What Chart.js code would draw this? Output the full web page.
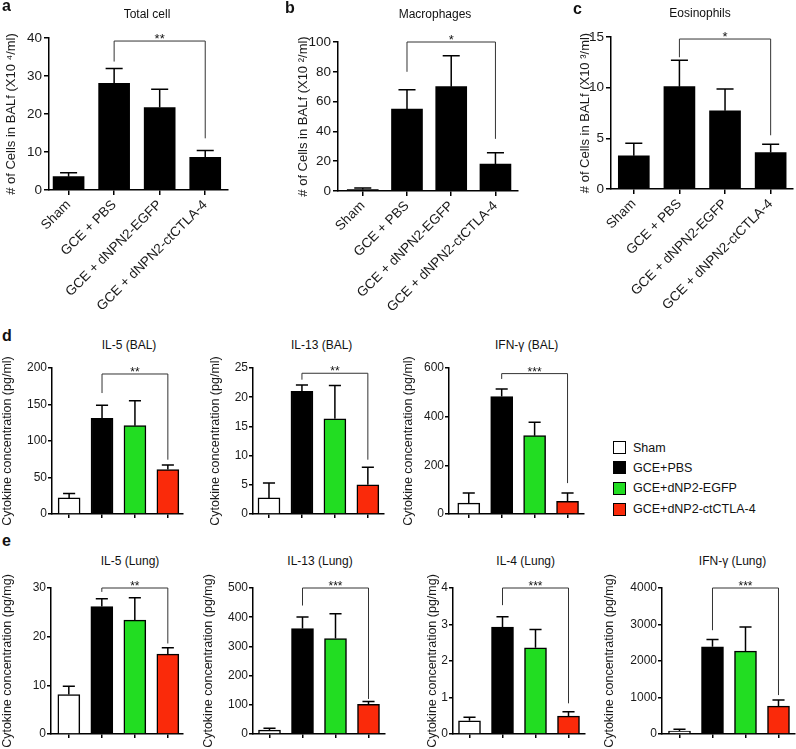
<!DOCTYPE html>
<html><head><meta charset="utf-8">
<script src="https://cdn.jsdelivr.net/npm/chart.js@4/dist/chart.umd.min.js"></script>
<style>
body{margin:0;background:#fff;width:796px;height:749px;overflow:hidden;position:relative;font-family:'Liberation Sans',Arial,sans-serif;}
canvas{position:absolute;}
.t{position:absolute;white-space:nowrap;line-height:1;color:#111;}
.sq{position:absolute;box-sizing:border-box;border:1px solid #000;}
</style></head><body>
<script>
// ---------- DATA ----------
const groups = ['Sham', 'GCE + PBS', 'GCE + dNPN2-EGFP', 'GCE + dNPN2-ctCTLA-4'];
const legendLabels = ['Sham', 'GCE+PBS', 'GCE+dNP2-EGFP', 'GCE+dNP2-ctCTLA-4'];
const groupColors = ['#ffffff', '#000000', '#22dd22', '#fa2a0a'];

const totalCellMean = [3.5, 28.1, 21.7, 8.6];
const totalCellErr  = [4.55, 32, 26.5, 10.4];
const macroMean = [1.0, 55, 70, 18];
const macroErr  = [2.0, 68, 90.8, 25.6];
const eosMean = [3.27, 10.1, 7.72, 3.6];
const eosErr  = [4.52, 12.7, 9.88, 4.42];

const il5BalMean = [22, 131, 121, 61];
const il5BalErr  = [28, 149, 155, 67];
const il13BalMean = [2.75, 21, 16.3, 5];
const il13BalErr  = [5.3, 22.1, 22, 8];
const ifnBalMean = [45, 483, 322, 52];
const ifnBalErr  = [86, 514, 377, 86];

const il5LungMean = [8.1, 26.2, 23.4, 16.4];
const il5LungErr  = [9.8, 27.8, 28, 17.7];
const il13LungMean = [13, 361, 327, 102];
const il13LungErr  = [20, 401, 412, 111];
const il4LungMean = [0.36, 2.93, 2.36, 0.49];
const il4LungErr  = [0.46, 3.21, 2.86, 0.61];
const ifnLungMean = [82, 2387, 2269, 765];
const ifnLungErr  = [128, 2588, 2934, 929];

const ticksTotal = [0, 10, 20, 30, 40];
const ticksMacro = [0, 20, 40, 60, 80, 100];
const ticksEos = [0, 5, 10, 15];
const ticksIl5Bal = [0, 50, 100, 150, 200];
const ticksIl13Bal = [0, 5, 10, 15, 20, 25];
const ticksIfnBal = [0, 200, 400, 600];
const ticksIl5Lung = [0, 10, 20, 30];
const ticksIl13Lung = [0, 100, 200, 300, 400, 500];
const ticksIl4Lung = [0, 1, 2, 3, 4];
const ticksIfnLung = [0, 1000, 2000, 3000, 4000];

// significance brackets: [top, left arm end, right arm end] between groups 1 and 3
const bracketPair = [1, 3];
const brTotal = [39.2, 33.8, 13.6];
const brMacro = [100, 80, 35];
const brEos = [14.8, 13.0, 5.3];
const brIl5Bal = [191.8, 165.7, 74.4];
const brIl13Bal = [24.1, 23.0, 9.3];
const brIfnBal = [577, 555, 127];
const brIl5Lung = [30, 29.2, 18.6];
const brIl13Lung = [500, 440, 120];
const brIl4Lung = [4.0, 3.53, 0.84];
const brIfnLung = [4000, 2843, 1066];

const yTitleCells4 = '# of Cells in BALf (X10 \u2074/ml)';
const yTitleCells2 = '# of Cells in BALf (X10 \u00B2/ml)';
const yTitleCells3 = '# of Cells in BALf (X10 \u00B3/ml)';
const yTitleMl = 'Cytokine concentration (pg/ml)';
const yTitleMg = 'Cytokine concentration (pg/mg)';

const panelTitles = ['Total cell', 'Macrophages', 'Eosinophils', 'IL-5 (BAL)', 'IL-13 (BAL)', 'IFN-\u03B3 (BAL)',
  'IL-5 (Lung)', 'IL-13 (Lung)', 'IL-4 (Lung)', 'IFN-\u03B3 (Lung)'];
const panelLetters = ['a', 'b', 'c', 'd', 'e'];

const panels = [
  {mean: totalCellMean, err: totalCellErr, ticks: ticksTotal, br: brTotal, stars: '**', yTitle: yTitleCells4, row: 1},
  {mean: macroMean, err: macroErr, ticks: ticksMacro, br: brMacro, stars: '*', yTitle: yTitleCells2, row: 1},
  {mean: eosMean, err: eosErr, ticks: ticksEos, br: brEos, stars: '*', yTitle: yTitleCells3, row: 1},
  {mean: il5BalMean, err: il5BalErr, ticks: ticksIl5Bal, br: brIl5Bal, stars: '**', yTitle: yTitleMl, row: 2},
  {mean: il13BalMean, err: il13BalErr, ticks: ticksIl13Bal, br: brIl13Bal, stars: '**', yTitle: yTitleMl, row: 2},
  {mean: ifnBalMean, err: ifnBalErr, ticks: ticksIfnBal, br: brIfnBal, stars: '***', yTitle: yTitleMl, row: 2},
  {mean: il5LungMean, err: il5LungErr, ticks: ticksIl5Lung, br: brIl5Lung, stars: '**', yTitle: yTitleMg, row: 3},
  {mean: il13LungMean, err: il13LungErr, ticks: ticksIl13Lung, br: brIl13Lung, stars: '***', yTitle: yTitleMg, row: 3},
  {mean: il4LungMean, err: il4LungErr, ticks: ticksIl4Lung, br: brIl4Lung, stars: '***', yTitle: yTitleMg, row: 3},
  {mean: ifnLungMean, err: ifnLungErr, ticks: ticksIfnLung, br: brIfnLung, stars: '***', yTitle: yTitleMg, row: 3}
];

// ---------- LAYOUT (positions only) ----------
// c: canvas [left, top, right, bottom]; a: plot area [left, right, top, bottom]
const layouts = [
  {c: [0, 20, 236, 320], a: [49, 228, 38, 190], xmin: -0.43, xmax: 3.5, bw: 31},
  {c: [292, 20, 528, 320], a: [338, 518, 42, 191], xmin: -0.56, xmax: 3.51, bw: 31},
  {c: [574, 20, 796, 320], a: [611, 793, 37, 189], xmin: -0.5, xmax: 3.49, bw: 31},
  {c: [0, 355, 190, 530], a: [52, 183, 368, 514], xmin: -0.52, xmax: 3.46, bw: 22},
  {c: [208, 355, 392, 530], a: [253, 384, 368, 514], xmin: -0.485, xmax: 3.49, bw: 22},
  {c: [401, 355, 592, 530], a: [449, 584, 368, 514], xmin: -0.6, xmax: 3.5, bw: 22},
  {c: [0, 570, 190, 749], a: [51, 183, 588, 734], xmin: -0.54, xmax: 3.46, bw: 22},
  {c: [201, 570, 392, 749], a: [253, 385, 588, 734], xmin: -0.5, xmax: 3.5, bw: 22},
  {c: [425, 570, 592, 749], a: [453, 585, 588, 734], xmin: -0.5, xmax: 3.5, bw: 22},
  {c: [602, 570, 796, 749], a: [662, 795, 588, 734], xmin: -0.53, xmax: 3.5, bw: 22}
];
const titlePos = [[147, 18.3], [435, 18.6], [700, 17], [129, 349.3], [321.7, 349.3], [526.7, 349.3],
  [130, 565.3], [320, 565.3], [525.7, 565.3], [732.5, 565.3]];
const letterPos = [[2, 11.7], [285, 13.3], [573, 15], [2, 341.7], [2, 547]];
const legendPos = {x: 613, tx: 633, ys: [447.7, 467.7, 488.3, 509.3], size: 13};

const FONT = "'Liberation Sans', Arial, sans-serif";
Chart.defaults.font.family = FONT;

function addText(str, x, baseline, size, opts) {
  opts = opts || {};
  const d = document.createElement('div');
  d.className = 't';
  d.textContent = str;
  d.style.fontSize = size + 'px';
  d.style.top = (baseline - 0.8465 * size) + 'px';
  d.style.left = x + 'px';
  if (opts.bold) d.style.fontWeight = 'bold';
  if (opts.center) d.style.transform = 'translateX(-50%)';
  document.body.appendChild(d);
}

const decor = {
  id: 'decor',
  afterDatasetsDraw(chart, args, o) {
    const ctx = chart.ctx, xs = chart.scales.x, ys = chart.scales.y;
    const meta = chart.getDatasetMeta(0);
    ctx.save();
    ctx.strokeStyle = '#000';
    ctx.lineWidth = 1.5;
    meta.data.forEach((bar, i) => {
      const x = bar.x;
      const y0 = ys.getPixelForValue(o.mean[i]);
      const y1 = ys.getPixelForValue(o.err[i]);
      const cw = bar.width * 0.55 / 2;
      ctx.beginPath();
      ctx.moveTo(x, y0); ctx.lineTo(x, y1);
      ctx.moveTo(x - cw, y1); ctx.lineTo(x + cw, y1);
      ctx.stroke();
    });
    const xl = xs.getPixelForValue(bracketPair[0]);
    const xr = xs.getPixelForValue(bracketPair[1]);
    const yt = ys.getPixelForValue(o.br[0]);
    ctx.strokeStyle = '#333';
    ctx.lineWidth = 1;
    ctx.beginPath();
    ctx.moveTo(xl, ys.getPixelForValue(o.br[1]));
    ctx.lineTo(xl, yt); ctx.lineTo(xr, yt);
    ctx.lineTo(xr, ys.getPixelForValue(o.br[2]));
    ctx.stroke();
    ctx.fillStyle = '#111';
    ctx.font = o.starSize + 'px ' + FONT;
    ctx.textAlign = 'center';
    ctx.textBaseline = 'alphabetic';
    ctx.fillText(o.stars, (xl + xr) / 2, yt + 2);
    ctx.restore();
  }
};

function makeChart(p, L) {
  const c = document.createElement('canvas');
  const w = L.c[2] - L.c[0], h = L.c[3] - L.c[1];
  c.width = w; c.height = h;
  c.style.left = L.c[0] + 'px'; c.style.top = L.c[1] + 'px';
  c.style.width = w + 'px'; c.style.height = h + 'px';
  document.body.appendChild(c);
  const row1 = p.row === 1;
  const zero = s => { s.paddingLeft = 0; s.paddingRight = 0; s.paddingTop = 0; s.paddingBottom = 0; };
  const gridOpts = {display: true, offset: false, drawOnChartArea: false, drawTicks: true,
    tickLength: row1 ? 5 : 4, color: '#000', lineWidth: 1.5};
  new Chart(c, {
    type: 'bar',
    data: {datasets: [{
      data: p.mean.map((v, i) => ({x: i, y: v})),
      backgroundColor: row1 ? '#000000' : groupColors,
      borderColor: '#000',
      borderWidth: row1 ? 0 : 1.5,
      barThickness: L.bw,
      borderSkipped: 'start'
    }]},
    options: {
      responsive: false, animation: false, devicePixelRatio: 1,
      layout: {autoPadding: false, padding: {left: 0, top: L.a[2] - L.c[1], right: L.c[2] - L.a[1], bottom: 0}},
      plugins: {
        legend: {display: false}, tooltip: {enabled: false}, title: {display: false},
        decor: {mean: p.mean, err: p.err, br: p.br, stars: p.stars, starSize: row1 ? 13 : 12}
      },
      scales: {
        x: {
          type: 'linear', min: L.xmin, max: L.xmax, offset: false,
          afterBuildTicks: s => { s.ticks = groups.map((g, i) => ({value: i})); },
          afterFit: s => { s.height = L.c[3] - L.a[3]; zero(s); },
          grid: gridOpts,
          border: {display: true, color: '#000', width: 1.5},
          ticks: {display: row1, autoSkip: false, minRotation: 45, maxRotation: 45, padding: 2,
            color: '#1a1a1a', font: {size: 13.5}, callback: v => groups[v]}
        },
        y: {
          type: 'linear', min: 0, max: p.ticks[p.ticks.length - 1],
          afterBuildTicks: s => { s.ticks = p.ticks.map(v => ({value: v})); },
          afterFit: s => { s.width = L.a[0] - L.c[0]; zero(s); },
          grid: gridOpts,
          border: {display: true, color: '#000', width: 1.5},
          ticks: {padding: row1 ? 2 : 1, color: '#1a1a1a', font: {size: row1 ? 13.5 : 12},
            callback: v => String(v)},
          title: {display: true, text: p.yTitle, color: '#1a1a1a',
            font: {size: row1 ? 13 : 12.5}, padding: {top: row1 ? 4 : 0, bottom: 0}}
        }
      }
    },
    plugins: [decor]
  });
}

panels.forEach((p, i) => makeChart(p, layouts[i]));

panelTitles.forEach((t, i) => addText(t, titlePos[i][0], titlePos[i][1], 12, {center: true}));
panelLetters.forEach((t, i) => addText(t, letterPos[i][0], letterPos[i][1], 16, {bold: true}));

legendLabels.forEach((t, i) => {
  const s = document.createElement('div');
  s.className = 'sq';
  const cy = legendPos.ys[i];
  s.style.left = legendPos.x + 'px';
  s.style.top = (cy - legendPos.size / 2) + 'px';
  s.style.width = legendPos.size + 'px';
  s.style.height = legendPos.size + 'px';
  s.style.background = groupColors[i];
  document.body.appendChild(s);
  addText(t, legendPos.tx, cy + 4.5, 12.5);
});
</script>
</body></html>
